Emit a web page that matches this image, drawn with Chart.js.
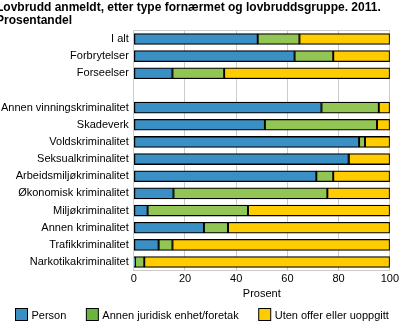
<!DOCTYPE html>
<html>
<head>
<meta charset="utf-8">
<script src="https://cdn.jsdelivr.net/npm/chart.js@4/dist/chart.umd.min.js"></script>
<style>
  html, body { margin: 0; padding: 0; background: #fff; }
  #wrap { width: 401px; height: 323px; }
</style>
</head>
<body>
<div id="wrap"><canvas id="chart" width="401" height="323"></canvas></div>
<script>
// Lovbruddsgrupper (tom rad skiller totalene fra gruppene)
const categories = [
  "I alt", "Forbrytelser", "Forseelser", "",
  "Annen vinningskriminalitet", "Skadeverk", "Voldskriminalitet",
  "Seksualkriminalitet", "Arbeidsmiljøkriminalitet", "Økonomisk kriminalitet",
  "Miljøkriminalitet", "Annen kriminalitet", "Trafikkriminalitet", "Narkotikakriminalitet"
];
const seriesNames = ["Person", "Annen juridisk enhet/foretak", "Uten offer eller uoppgitt"];
const person   = [48.4, 62.8, 15.1, null, 73.3, 51.2, 88.0, 83.9, 71.3, 15.5, 5.4, 27.4, 9.7, 0.5];
const juridisk = [16.3, 15.1, 20.2, null, 22.4, 43.8, 2.3, 0.1, 6.6, 60.1, 39.2, 9.4, 5.4, 3.6];
const uten     = [35.3, 22.1, 64.7, null, 4.3, 5.0, 9.7, 16.0, 22.1, 24.4, 55.4, 63.2, 84.9, 95.9];
const xTicks = [0, 20, 40, 60, 80, 100];

const barColors = ["#3a8fc4", "#92c553", "#ffcc00"];
const legendColors = ["#3a8fc4", "#6ab43f", "#ffcc00"];

const font = { family: "Arial, 'Liberation Sans', sans-serif", size: 11 };

// topplinje over plottområdet
const frameTop = {
  id: "frameTop",
  beforeDatasetsDraw(chart) {
    const { ctx, chartArea } = chart;
    ctx.save();
    ctx.strokeStyle = "#cccccc";
    ctx.lineWidth = 1;
    ctx.beginPath();
    ctx.moveTo(chartArea.left, Math.round(chartArea.top) + 0.5);
    ctx.lineTo(chartArea.right, Math.round(chartArea.top) + 0.5);
    ctx.stroke();
    ctx.restore();
  }
};

// forklaring nederst, én linje
const bottomLegend = {
  id: "bottomLegend",
  afterDraw(chart) {
    const { ctx } = chart;
    const y = 308.5;
    let x = 15.5;
    ctx.save();
    ctx.font = `${font.size}px ${font.family}`;
    ctx.textBaseline = "middle";
    ctx.textAlign = "left";
    chart.data.datasets.forEach((ds, i) => {
      ctx.fillStyle = legendColors[i];
      ctx.fillRect(x, y, 12, 12);
      ctx.strokeStyle = "#000";
      ctx.lineWidth = 1;
      ctx.strokeRect(x, y, 12, 12);
      ctx.fillStyle = "#000";
      ctx.fillText(ds.label, x + 16, y + 7);
      x += 16 + ctx.measureText(ds.label).width + 20;
    });
    ctx.restore();
  }
};

new Chart(document.getElementById("chart"), {
  type: "bar",
  data: {
    labels: categories,
    datasets: [person, juridisk, uten].map((vals, i) => ({
      label: seriesNames[i],
      data: vals,
      backgroundColor: barColors[i],
      borderColor: "#000",
      borderWidth: 1.3,
      borderSkipped: false,
      barThickness: 11
    }))
  },
  options: {
    indexAxis: "y",
    responsive: false,
    animation: false,
    layout: { padding: { left: -4, right: -2, top: 0, bottom: 22 } },
    scales: {
      x: {
        stacked: true,
        min: 0,
        max: 100,
        afterBuildTicks: axis => { axis.ticks = xTicks.map(v => ({ value: v })); },
        grid: { color: "#cccccc", drawTicks: false },
        border: { color: "#cccccc" },
        ticks: { color: "#000", font: font, padding: 2 },
        title: { display: true, text: "Prosent", color: "#000", font: font, padding: { top: 0, bottom: 0 } }
      },
      y: {
        stacked: true,
        grid: { display: false, drawTicks: false },
        border: { color: "#cccccc" },
        ticks: { color: "#000", font: font, padding: 5, autoSkip: false }
      }
    },
    plugins: {
      title: {
        display: true,
        align: "start",
        text: ["Lovbrudd anmeldt, etter type fornærmet og lovbruddsgruppe. 2011.", "Prosentandel"],
        color: "#000",
        font: { family: font.family, size: 12, weight: "bold", lineHeight: 1.1 },
        padding: { top: 1, bottom: 3 }
      },
      legend: { display: false },
      tooltip: { enabled: false }
    }
  },
  plugins: [frameTop, bottomLegend]
});
</script>
</body>
</html>
